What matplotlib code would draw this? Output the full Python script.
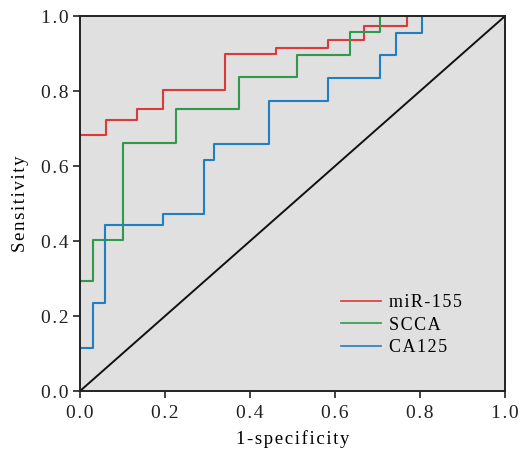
import matplotlib

matplotlib.use("Agg")
import matplotlib.pyplot as plt

# ROC curves: breakpoints of each step function
mir_fpr = [0.0, 0.061, 0.134, 0.196, 0.341, 0.461, 0.584, 0.669, 0.769]
mir_tpr = [0.682, 0.722, 0.753, 0.804, 0.899, 0.916, 0.937, 0.975, 1.0]

scca_fpr = [0.0, 0.030, 0.102, 0.226, 0.375, 0.511, 0.636, 0.706]
scca_tpr = [0.294, 0.403, 0.661, 0.752, 0.837, 0.897, 0.957, 1.0]

ca_fpr = [0.0, 0.030, 0.060, 0.196, 0.292, 0.315, 0.445, 0.584, 0.707, 0.744, 0.806]
ca_tpr = [0.115, 0.235, 0.444, 0.471, 0.616, 0.660, 0.774, 0.836, 0.897, 0.955, 1.0]

labels = ["miR-155", "SCCA", "CA125"]
colors = ["#dc3a3a", "#2e9a4a", "#1f7fc0"]
ticks = [0.0, 0.2, 0.4, 0.6, 0.8, 1.0]

plt.rcParams["font.family"] = ["Liberation Serif", "DejaVu Serif"]
FS = 13.5


def spaced(s, sep="\u200a"):
    # the reference text is set loosely; fake the tracking with hair spaces
    return sep.join(s)


def step_xy(fpr, tpr):
    # horizontal first, then vertical up to the next sensitivity level
    xs, ys = [fpr[0]], [tpr[0]]
    for i in range(1, len(fpr)):
        xs += [fpr[i], fpr[i]]
        ys += [tpr[i - 1], tpr[i]]
    return xs, ys


fig = plt.figure(figsize=(5.2, 4.5), dpi=100)
ax = fig.add_axes([0.1538, 0.131, 0.8172, 0.833])
ax.set_facecolor("#e0e0e0")

ax.plot([0, 1], [0, 1], color="#111111", lw=1.4, zorder=1)
for (fpr, tpr), lab, c in zip(
    [(mir_fpr, mir_tpr), (scca_fpr, scca_tpr), (ca_fpr, ca_tpr)], labels, colors
):
    xs, ys = step_xy(fpr, tpr)
    ax.plot(xs, ys, color=c, lw=1.5, label=spaced(lab), zorder=2)

ax.set_xlim(0, 1)
ax.set_ylim(0, 1)
ax.set_xticks(ticks)
ax.set_yticks(ticks)
ax.set_xticklabels([spaced(f"{t:.1f}") for t in ticks])
ax.set_yticklabels([spaced(f"{t:.1f}") for t in ticks])
ax.tick_params(direction="out", length=5, width=1.2, labelsize=14, colors="#222222")
ax.tick_params(axis="x", pad=5)
ax.tick_params(axis="y", pad=3)
for s in ax.spines.values():
    s.set_linewidth(1.4)
    s.set_color("#222222")

ax.set_xlabel(spaced("1-specificity"), fontsize=FS, labelpad=6)
ax.set_ylabel(spaced("Sensitivity"), fontsize=FS, labelpad=9)

leg = ax.legend(
    loc="lower right",
    bbox_to_anchor=(0.937, 0.05),
    frameon=False,
    fontsize=13,
    handlelength=2.2,
    handletextpad=0.45,
    labelspacing=0.3,
)
for line in leg.get_lines():
    line.set_linewidth(1.2)

fig.savefig("out.png", dpi=100)
